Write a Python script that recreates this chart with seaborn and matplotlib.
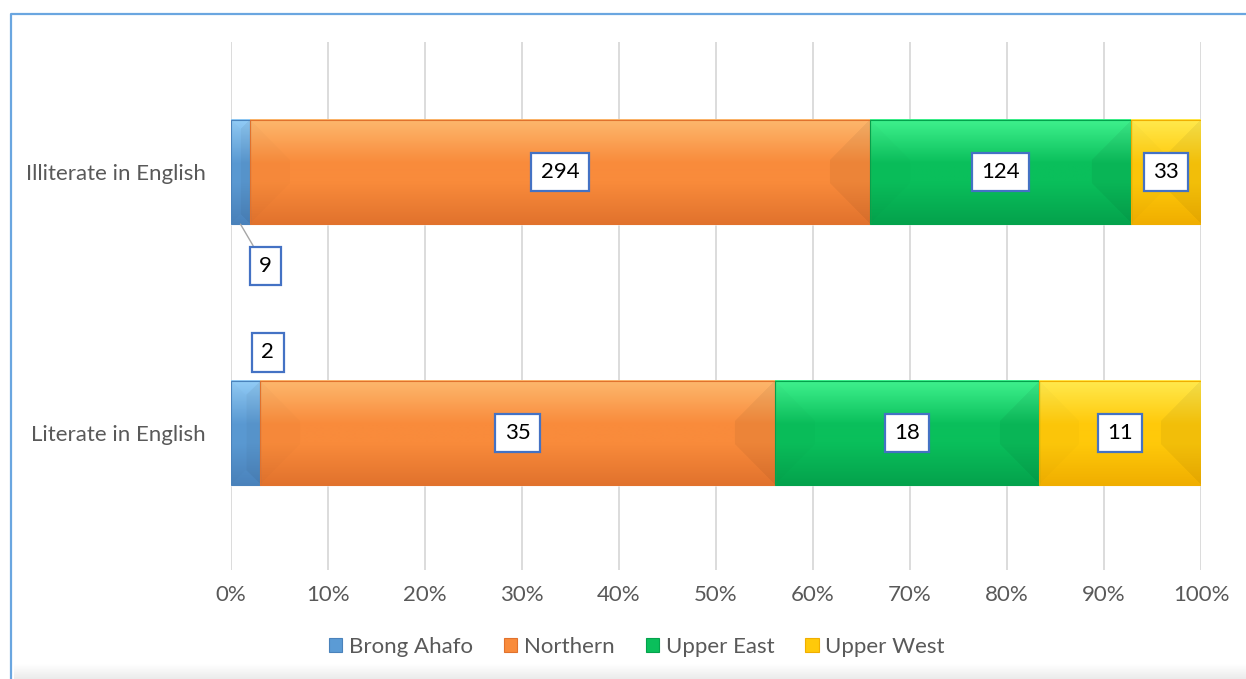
import matplotlib
matplotlib.use("Agg")
import matplotlib.pyplot as plt
import numpy as np
import pandas as pd
import seaborn as sns
from matplotlib.colors import to_rgb
from matplotlib.lines import Line2D
from matplotlib.patches import Patch, Rectangle
from matplotlib.ticker import PercentFormatter

# Data: respondents per region, split by English literacy.
GROUPS = ["Illiterate in English", "Literate in English"]
REGIONS = ["Brong Ahafo", "Northern", "Upper East", "Upper West"]
brong_ahafo = [9, 2]
northern = [294, 35]
upper_east = [124, 18]
upper_west = [33, 11]

# (light top, face, dark bottom) for the bevelled Excel-style bars
SHADES = {
    "Brong Ahafo": ("#93cdf7", "#5b9bd5", "#4a82bb"),
    "Northern": ("#fdb86e", "#f98b3b", "#e1722d"),
    "Upper East": ("#40f28e", "#0abf5b", "#04a24c"),
    "Upper West": ("#ffea4f", "#ffc90a", "#f0ae00"),
}
GREY_TEXT = "#595959"
LABEL_EDGE = "#4472c4"

sns.set_theme(style="white")
plt.rcParams["font.family"] = ["Lato", "DejaVu Sans"]
FONT_SIZE = 16

counts = pd.DataFrame(
    {"Brong Ahafo": brong_ahafo, "Northern": northern,
     "Upper East": upper_east, "Upper West": upper_west},
    index=GROUPS,
)
shares = counts.div(counts.sum(axis=1), axis=0)
ends = shares.cumsum(axis=1)
starts = ends - shares
long = (ends.reset_index(names="group")
        .melt(id_vars="group", var_name="region", value_name="end"))

BAR_WIDTH = 0.4

fig = plt.figure(figsize=(12.46, 6.79), dpi=100)
ax = fig.add_axes([231 / 1246, 1 - 570 / 679, 970 / 1246, 528 / 679])

# Layered bars: longest cumulative first so each region keeps its own slice.
for region in reversed(REGIONS):
    sns.barplot(
        data=long[long["region"] == region], x="end", y="group",
        order=GROUPS, orient="h", color=SHADES[region][1],
        saturation=1, width=BAR_WIDTH, errorbar=None, ax=ax, zorder=2,
    )


def bevel_image(shades, w_px, h_px, depth=40):
    """RGB array with a vertical gradient and angled side facets."""
    light, face, dark = (np.array(to_rgb(c)) for c in shades)
    nx = max(int(round(w_px)), 2)
    ny = max(int(round(h_px)), 2)
    X, Y = np.meshgrid(np.arange(nx) + 0.5, np.arange(ny) + 0.5)
    t = Y / ny
    up = np.clip(1 - t / 0.42, 0, 1)[..., None]
    down = np.clip((t - 0.6) / 0.4, 0, 1)[..., None]
    img = face * (1 - up - down) + light * up + dark * down
    dl, dr = X, nx - X
    dv = np.minimum(Y, ny - Y)
    left = (dl < depth) & (dl < dv) & (dl <= dr)
    right = (dr < depth) & (dr < dv) & (dr < dl)
    img[left] *= 0.985
    img[right] *= 0.95
    return np.clip(img, 0, 1)


px_per_x = 970.0
px_per_y = 261.0
for j, group in enumerate(GROUPS):
    for region in REGIONS:
        x0 = starts.loc[group, region]
        x1 = ends.loc[group, region]
        img = bevel_image(SHADES[region], (x1 - x0) * px_per_x,
                          BAR_WIDTH * px_per_y)
        ax.imshow(img, extent=(x0, x1, j + BAR_WIDTH / 2, j - BAR_WIDTH / 2),
                  aspect="auto", interpolation="bilinear", zorder=3)
        ax.add_patch(Rectangle((x0, j - BAR_WIDTH / 2), x1 - x0, BAR_WIDTH,
                               fill=False, edgecolor=SHADES[region][2],
                               linewidth=0.8, zorder=4))

# Value labels: white boxes with a blue outline.
box = dict(boxstyle="square,pad=0.42", facecolor="white",
           edgecolor=LABEL_EDGE, linewidth=1.6)
for j, group in enumerate(GROUPS):
    for region in REGIONS[1:]:
        centre = (starts.loc[group, region] + ends.loc[group, region]) / 2
        ax.text(centre, j, str(counts.loc[group, region]), ha="center",
                va="center", fontsize=FONT_SIZE, color="black", bbox=box,
                zorder=5)

# Brong Ahafo slices are too thin, so their labels sit outside the bar.
centre = (starts.iloc[0, 0] + ends.iloc[0, 0]) / 2
ax.annotate(str(counts.iloc[0, 0]), xy=(centre, BAR_WIDTH / 2),
            xytext=(18, -30), textcoords="offset points",
            ha="center", va="center", fontsize=FONT_SIZE, color="black",
            bbox=box, zorder=5,
            arrowprops=dict(arrowstyle="-", color="#a6a6a6", lw=1,
                            relpos=(0, 1), shrinkA=0, shrinkB=0))
centre = (starts.iloc[1, 0] + ends.iloc[1, 0]) / 2
ax.annotate(str(counts.iloc[1, 0]), xy=(centre, 1),
            xytext=(16, 58), textcoords="offset points",
            ha="center", va="center", fontsize=FONT_SIZE, color="black",
            bbox=box, zorder=5)

ax.set_xlim(0, 1)
ax.set_ylim(1.525, -0.498)
ax.xaxis.set_major_locator(plt.MultipleLocator(0.1))
ax.xaxis.set_major_formatter(PercentFormatter(1, decimals=0))
ax.grid(axis="x", color="#d9d9d9", linewidth=1.3, zorder=0)
ax.grid(axis="y", visible=False)
ax.set_axisbelow(True)
sns.despine(ax=ax, left=True, bottom=True)
ax.tick_params(axis="x", length=0, pad=11, labelsize=FONT_SIZE,
               labelcolor=GREY_TEXT)
ax.tick_params(axis="y", length=0, pad=18, labelsize=FONT_SIZE,
               labelcolor=GREY_TEXT)
ax.set_xlabel("")
ax.set_ylabel("")

handles = [Patch(facecolor=SHADES[r][1], edgecolor=SHADES[r][2], linewidth=0.8)
           for r in REGIONS]
fig.legend(handles, REGIONS, loc="center", bbox_to_anchor=(0.511, 1 - 647 / 679),
           ncol=4, frameon=False, fontsize=FONT_SIZE, labelcolor=GREY_TEXT,
           handlelength=0.6, handleheight=0.6, handletextpad=0.3,
           columnspacing=1.4)

# Chart-area border (left and top visible) and soft shadow along the bottom.
fx, fy = 10.5 / 1246, 1 - 14 / 679
fig.add_artist(Line2D([fx, fx, 1], [0, fy, fy], transform=fig.transFigure,
                      color="#6aa6e0", linewidth=1.6))
shadow = fig.add_axes([14 / 1246, 0, 1 - 14 / 1246, 16 / 679])
shadow.imshow(np.linspace(1, 0.92, 16)[:, None] * np.ones((1, 50)),
              cmap="gray", vmin=0, vmax=1, aspect="auto")
shadow.axis("off")

fig.savefig("out.png", dpi=100)
